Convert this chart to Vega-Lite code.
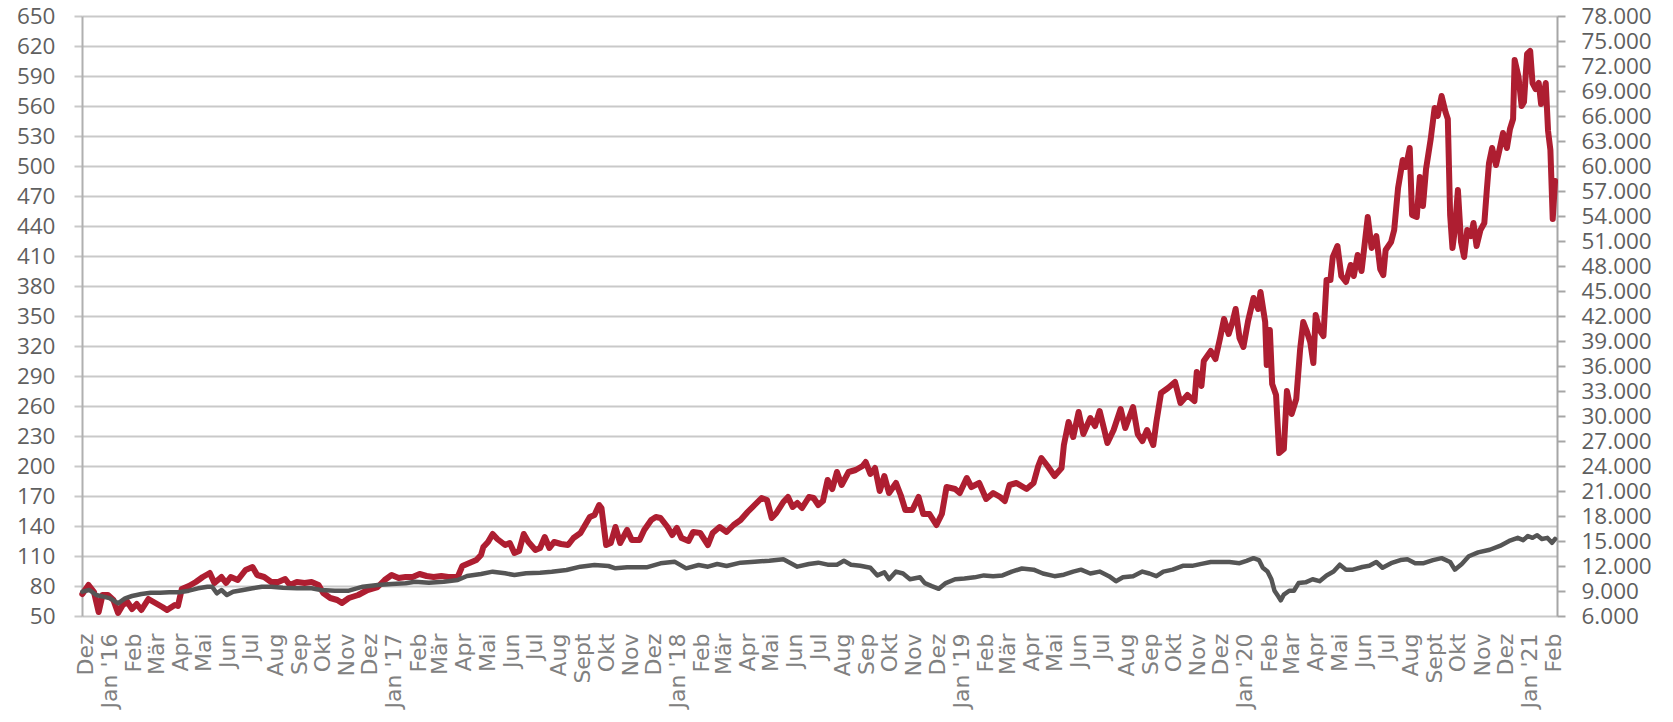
{
  "$schema": "https://vega.github.io/schema/vega-lite/v6.json",
  "width": 1475,
  "height": 600,
  "autosize": {"type": "none"},
  "padding": {"left": 82, "top": 16, "right": 116, "bottom": 106},
  "background": "white",
  "config": {"view": {"stroke": null}, "font": "Open Sans"},
  "datasets": {
    "red": [
      {"date":"2015-11-27","v":72},{"date":"2015-12-05","v":81},{"date":"2015-12-12","v":74},{"date":"2015-12-18","v":54},{"date":"2015-12-23","v":71},{"date":"2015-12-30","v":71},
      {"date":"2016-01-06","v":66},{"date":"2016-01-12","v":53},{"date":"2016-01-18","v":61},{"date":"2016-01-24","v":64},{"date":"2016-01-30","v":57},
      {"date":"2016-02-05","v":62},{"date":"2016-02-11","v":56},{"date":"2016-02-20","v":67},{"date":"2016-02-29","v":63},
      {"date":"2016-03-09","v":59},{"date":"2016-03-15","v":56},{"date":"2016-03-25","v":61},{"date":"2016-03-29","v":60},
      {"date":"2016-04-03","v":77},{"date":"2016-04-12","v":80},{"date":"2016-04-21","v":84},{"date":"2016-04-30","v":89},
      {"date":"2016-05-09","v":93},{"date":"2016-05-15","v":83},{"date":"2016-05-24","v":89},{"date":"2016-05-30","v":83},
      {"date":"2016-06-05","v":89},{"date":"2016-06-14","v":86},{"date":"2016-06-24","v":96},
      {"date":"2016-07-03","v":99},{"date":"2016-07-09","v":91},{"date":"2016-07-18","v":89},{"date":"2016-07-27","v":84},
      {"date":"2016-08-05","v":84},{"date":"2016-08-14","v":87},{"date":"2016-08-20","v":81},{"date":"2016-08-29","v":84},
      {"date":"2016-09-08","v":83},{"date":"2016-09-17","v":84},{"date":"2016-09-26","v":81},
      {"date":"2016-10-02","v":73},{"date":"2016-10-11","v":68},{"date":"2016-10-20","v":66},{"date":"2016-10-26","v":63},
      {"date":"2016-11-04","v":68},{"date":"2016-11-16","v":71},{"date":"2016-11-28","v":76},
      {"date":"2016-12-11","v":79},{"date":"2016-12-20","v":86},{"date":"2016-12-29","v":91},
      {"date":"2017-01-07","v":88},{"date":"2017-01-16","v":89},{"date":"2017-01-25","v":89},
      {"date":"2017-02-03","v":92},{"date":"2017-02-12","v":90},{"date":"2017-02-21","v":89},
      {"date":"2017-03-03","v":90},{"date":"2017-03-12","v":89},{"date":"2017-03-24","v":89},{"date":"2017-03-30","v":100},
      {"date":"2017-04-08","v":103},{"date":"2017-04-17","v":106},{"date":"2017-04-23","v":111},{"date":"2017-04-26","v":119},
      {"date":"2017-05-02","v":124},{"date":"2017-05-08","v":132},{"date":"2017-05-14","v":127},{"date":"2017-05-24","v":121},{"date":"2017-05-30","v":123},
      {"date":"2017-06-05","v":113},{"date":"2017-06-11","v":115},{"date":"2017-06-17","v":132},{"date":"2017-06-23","v":124},
      {"date":"2017-07-02","v":116},{"date":"2017-07-08","v":118},{"date":"2017-07-14","v":129},{"date":"2017-07-20","v":118},{"date":"2017-07-26","v":124},
      {"date":"2017-08-04","v":122},{"date":"2017-08-13","v":121},{"date":"2017-08-20","v":128},{"date":"2017-08-29","v":133},
      {"date":"2017-09-04","v":141},{"date":"2017-09-10","v":149},{"date":"2017-09-16","v":151},{"date":"2017-09-22","v":161},{"date":"2017-09-25","v":158},
      {"date":"2017-10-01","v":121},{"date":"2017-10-07","v":123},{"date":"2017-10-13","v":139},{"date":"2017-10-19","v":123},{"date":"2017-10-28","v":136},
      {"date":"2017-11-03","v":126},{"date":"2017-11-13","v":126},{"date":"2017-11-19","v":136},{"date":"2017-11-28","v":146},
      {"date":"2017-12-04","v":149},{"date":"2017-12-10","v":148},{"date":"2017-12-19","v":139},{"date":"2017-12-25","v":131},{"date":"2017-12-31","v":138},
      {"date":"2018-01-06","v":128},{"date":"2018-01-15","v":125},{"date":"2018-01-21","v":134},{"date":"2018-01-30","v":133},
      {"date":"2018-02-09","v":121},{"date":"2018-02-15","v":133},{"date":"2018-02-24","v":139},
      {"date":"2018-03-05","v":134},{"date":"2018-03-14","v":141},{"date":"2018-03-23","v":146},
      {"date":"2018-04-01","v":154},{"date":"2018-04-10","v":161},{"date":"2018-04-19","v":168},{"date":"2018-04-26","v":166},
      {"date":"2018-05-02","v":148},{"date":"2018-05-08","v":153},{"date":"2018-05-17","v":164},{"date":"2018-05-23","v":169},{"date":"2018-05-29","v":159},
      {"date":"2018-06-04","v":163},{"date":"2018-06-10","v":158},{"date":"2018-06-19","v":169},{"date":"2018-06-25","v":168},
      {"date":"2018-07-01","v":161},{"date":"2018-07-07","v":165},{"date":"2018-07-13","v":186},{"date":"2018-07-19","v":177},{"date":"2018-07-25","v":194},{"date":"2018-07-31","v":181},
      {"date":"2018-08-09","v":194},{"date":"2018-08-18","v":196},{"date":"2018-08-27","v":200},{"date":"2018-08-31","v":204},
      {"date":"2018-09-06","v":192},{"date":"2018-09-12","v":198},{"date":"2018-09-18","v":175},{"date":"2018-09-24","v":190},{"date":"2018-09-30","v":173},
      {"date":"2018-10-09","v":183},{"date":"2018-10-15","v":171},{"date":"2018-10-21","v":156},{"date":"2018-10-30","v":156},
      {"date":"2018-11-07","v":169},{"date":"2018-11-13","v":152},{"date":"2018-11-21","v":152},{"date":"2018-11-30","v":141},
      {"date":"2018-12-07","v":152},{"date":"2018-12-13","v":179},{"date":"2018-12-24","v":177},{"date":"2018-12-30","v":173},
      {"date":"2019-01-08","v":188},{"date":"2019-01-14","v":179},{"date":"2019-01-24","v":183},
      {"date":"2019-02-02","v":167},{"date":"2019-02-11","v":173},{"date":"2019-02-20","v":169},{"date":"2019-02-26","v":165},
      {"date":"2019-03-04","v":181},{"date":"2019-03-13","v":183},{"date":"2019-03-26","v":177},
      {"date":"2019-04-04","v":183},{"date":"2019-04-10","v":200},{"date":"2019-04-14","v":208},{"date":"2019-04-22","v":200},
      {"date":"2019-05-01","v":190},{"date":"2019-05-10","v":198},{"date":"2019-05-13","v":221},{"date":"2019-05-19","v":244},{"date":"2019-05-25","v":229},
      {"date":"2019-06-01","v":254},{"date":"2019-06-07","v":232},{"date":"2019-06-16","v":248},{"date":"2019-06-22","v":240},{"date":"2019-06-28","v":255},
      {"date":"2019-07-04","v":236},{"date":"2019-07-08","v":223},{"date":"2019-07-16","v":236},{"date":"2019-07-25","v":257},{"date":"2019-07-31","v":238},
      {"date":"2019-08-10","v":259},{"date":"2019-08-16","v":232},{"date":"2019-08-22","v":225},{"date":"2019-08-28","v":236},
      {"date":"2019-09-05","v":221},{"date":"2019-09-09","v":244},{"date":"2019-09-15","v":273},{"date":"2019-09-24","v":278},
      {"date":"2019-10-03","v":284},{"date":"2019-10-10","v":263},{"date":"2019-10-19","v":271},{"date":"2019-10-28","v":265},{"date":"2019-10-31","v":294},
      {"date":"2019-11-06","v":280},{"date":"2019-11-09","v":305},{"date":"2019-11-18","v":315},{"date":"2019-11-24","v":307},{"date":"2019-11-30","v":328},
      {"date":"2019-12-05","v":347},{"date":"2019-12-11","v":332},{"date":"2019-12-16","v":344},{"date":"2019-12-20","v":357},{"date":"2019-12-25","v":328},{"date":"2019-12-30","v":319},
      {"date":"2020-01-05","v":345},{"date":"2020-01-12","v":368},{"date":"2020-01-18","v":357},{"date":"2020-01-21","v":374},{"date":"2020-01-27","v":344},{"date":"2020-01-29","v":301},
      {"date":"2020-02-02","v":336},{"date":"2020-02-05","v":282},{"date":"2020-02-10","v":271},{"date":"2020-02-14","v":213},{"date":"2020-02-20","v":217},{"date":"2020-02-24","v":275},
      {"date":"2020-03-01","v":252},{"date":"2020-03-07","v":267},{"date":"2020-03-12","v":317},{"date":"2020-03-16","v":344},{"date":"2020-03-20","v":336},{"date":"2020-03-25","v":324},{"date":"2020-03-29","v":303},
      {"date":"2020-04-01","v":351},{"date":"2020-04-06","v":336},{"date":"2020-04-11","v":330},{"date":"2020-04-15","v":386},{"date":"2020-04-20","v":386},{"date":"2020-04-23","v":409},{"date":"2020-04-29","v":420},
      {"date":"2020-05-04","v":390},{"date":"2020-05-10","v":384},{"date":"2020-05-16","v":401},{"date":"2020-05-20","v":390},{"date":"2020-05-25","v":411},{"date":"2020-05-30","v":395},
      {"date":"2020-06-03","v":422},{"date":"2020-06-07","v":449},{"date":"2020-06-12","v":418},{"date":"2020-06-18","v":430},{"date":"2020-06-23","v":397},{"date":"2020-06-27","v":391},{"date":"2020-06-30","v":416},
      {"date":"2020-07-07","v":424},{"date":"2020-07-11","v":436},{"date":"2020-07-16","v":478},{"date":"2020-07-22","v":506},{"date":"2020-07-26","v":499},{"date":"2020-07-31","v":518},
      {"date":"2020-08-03","v":451},{"date":"2020-08-09","v":449},{"date":"2020-08-13","v":489},{"date":"2020-08-17","v":460},{"date":"2020-08-21","v":497},{"date":"2020-08-27","v":527},
      {"date":"2020-09-01","v":558},{"date":"2020-09-05","v":550},{"date":"2020-09-10","v":570},{"date":"2020-09-15","v":554},{"date":"2020-09-18","v":547},{"date":"2020-09-21","v":451},{"date":"2020-09-24","v":418},{"date":"2020-09-27","v":436},
      {"date":"2020-10-01","v":476},{"date":"2020-10-05","v":424},{"date":"2020-10-09","v":409},{"date":"2020-10-13","v":436},{"date":"2020-10-18","v":430},{"date":"2020-10-21","v":443},{"date":"2020-10-25","v":420},{"date":"2020-10-30","v":436},
      {"date":"2020-11-04","v":443},{"date":"2020-11-07","v":474},{"date":"2020-11-10","v":503},{"date":"2020-11-14","v":518},{"date":"2020-11-19","v":501},{"date":"2020-11-24","v":518},{"date":"2020-11-28","v":533},
      {"date":"2020-12-03","v":518},{"date":"2020-12-07","v":537},{"date":"2020-12-11","v":547},{"date":"2020-12-13","v":606},{"date":"2020-12-18","v":589},{"date":"2020-12-22","v":560},{"date":"2020-12-25","v":564},{"date":"2020-12-29","v":612},
      {"date":"2021-01-02","v":615},{"date":"2021-01-05","v":583},{"date":"2021-01-09","v":577},{"date":"2021-01-13","v":583},{"date":"2021-01-16","v":562},{"date":"2021-01-19","v":570},{"date":"2021-01-22","v":583},{"date":"2021-01-25","v":535},{"date":"2021-01-28","v":516},{"date":"2021-01-31","v":447},
      {"date":"2021-02-03","v":485}
    ],
    "gray": [
      {"date":"2015-11-27","v":8920},{"date":"2015-12-06","v":9120},{"date":"2015-12-15","v":8520},{"date":"2015-12-24","v":8320},
      {"date":"2016-01-02","v":8120},{"date":"2016-01-12","v":7520},{"date":"2016-01-21","v":8120},{"date":"2016-01-30","v":8400},
      {"date":"2016-02-11","v":8640},{"date":"2016-02-23","v":8800},{"date":"2016-03-06","v":8800},{"date":"2016-03-18","v":8840},{"date":"2016-03-31","v":8840},
      {"date":"2016-04-12","v":9040},{"date":"2016-04-24","v":9320},{"date":"2016-05-06","v":9520},{"date":"2016-05-12","v":9520},{"date":"2016-05-18","v":8720},
      {"date":"2016-05-24","v":9120},{"date":"2016-05-31","v":8520},{"date":"2016-06-08","v":8920},{"date":"2016-06-21","v":9120},
      {"date":"2016-07-03","v":9320},{"date":"2016-07-15","v":9520},{"date":"2016-07-27","v":9520},{"date":"2016-08-11","v":9400},{"date":"2016-08-29","v":9320},
      {"date":"2016-09-17","v":9320},{"date":"2016-09-29","v":9120},{"date":"2016-10-17","v":9040},{"date":"2016-11-04","v":9040},{"date":"2016-11-22","v":9520},
      {"date":"2016-12-11","v":9720},{"date":"2016-12-29","v":9840},{"date":"2017-01-16","v":9920},{"date":"2017-01-28","v":10120},{"date":"2017-02-15","v":10000},
      {"date":"2017-03-06","v":10120},{"date":"2017-03-24","v":10320},{"date":"2017-04-05","v":10800},{"date":"2017-04-23","v":11040},{"date":"2017-05-08","v":11320},
      {"date":"2017-05-24","v":11120},{"date":"2017-06-05","v":10920},{"date":"2017-06-20","v":11120},{"date":"2017-07-08","v":11200},{"date":"2017-07-23","v":11320},
      {"date":"2017-08-11","v":11520},{"date":"2017-08-29","v":11920},{"date":"2017-09-16","v":12120},{"date":"2017-10-04","v":12000},{"date":"2017-10-13","v":11720},
      {"date":"2017-10-28","v":11840},{"date":"2017-11-22","v":11840},{"date":"2017-12-10","v":12320},{"date":"2017-12-28","v":12520},
      {"date":"2018-01-12","v":11720},{"date":"2018-01-28","v":12120},{"date":"2018-02-09","v":11920},{"date":"2018-02-21","v":12240},{"date":"2018-03-05","v":12000},
      {"date":"2018-03-23","v":12400},{"date":"2018-04-10","v":12520},{"date":"2018-04-29","v":12640},{"date":"2018-05-17","v":12800},{"date":"2018-06-04","v":11920},
      {"date":"2018-06-19","v":12240},{"date":"2018-07-01","v":12400},{"date":"2018-07-13","v":12160},{"date":"2018-07-25","v":12160},{"date":"2018-08-03","v":12620},
      {"date":"2018-08-12","v":12160},{"date":"2018-08-24","v":12020},{"date":"2018-09-06","v":11790},{"date":"2018-09-15","v":10870},{"date":"2018-09-24","v":11240},
      {"date":"2018-09-30","v":10410},{"date":"2018-10-09","v":11330},{"date":"2018-10-18","v":11100},{"date":"2018-10-27","v":10410},{"date":"2018-11-09","v":10640},
      {"date":"2018-11-15","v":9950},{"date":"2018-11-24","v":9580},{"date":"2018-12-03","v":9260},{"date":"2018-12-12","v":9950},{"date":"2018-12-24","v":10410},
      {"date":"2019-01-05","v":10500},{"date":"2019-01-18","v":10640},{"date":"2019-01-30","v":10870},{"date":"2019-02-11","v":10780},{"date":"2019-02-23","v":10870},
      {"date":"2019-03-07","v":11330},{"date":"2019-03-20","v":11700},{"date":"2019-04-04","v":11560},{"date":"2019-04-16","v":11100},{"date":"2019-05-01","v":10780},
      {"date":"2019-05-13","v":10960},{"date":"2019-05-25","v":11330},{"date":"2019-06-04","v":11560},{"date":"2019-06-16","v":11100},{"date":"2019-06-28","v":11330},
      {"date":"2019-07-10","v":10780},{"date":"2019-07-19","v":10180},{"date":"2019-07-28","v":10640},{"date":"2019-08-10","v":10780},{"date":"2019-08-22","v":11330},
      {"date":"2019-08-31","v":11100},{"date":"2019-09-09","v":10780},{"date":"2019-09-18","v":11330},{"date":"2019-09-30","v":11560},{"date":"2019-10-13","v":12020},
      {"date":"2019-10-25","v":12020},{"date":"2019-11-06","v":12250},{"date":"2019-11-18","v":12480},{"date":"2019-11-30","v":12480},{"date":"2019-12-12","v":12480},
      {"date":"2019-12-25","v":12340},{"date":"2020-01-03","v":12620},{"date":"2020-01-12","v":12940},{"date":"2020-01-19","v":12710},{"date":"2020-01-24","v":11790},
      {"date":"2020-01-30","v":11330},{"date":"2020-02-04","v":10410},{"date":"2020-02-08","v":9030},{"date":"2020-02-13","v":8340},{"date":"2020-02-16","v":7880},
      {"date":"2020-02-20","v":8570},{"date":"2020-02-27","v":9030},{"date":"2020-03-04","v":9030},{"date":"2020-03-10","v":9950},{"date":"2020-03-19","v":10040},
      {"date":"2020-03-28","v":10410},{"date":"2020-04-06","v":10180},{"date":"2020-04-15","v":10870},{"date":"2020-04-24","v":11330},{"date":"2020-05-02","v":12160},
      {"date":"2020-05-10","v":11560},{"date":"2020-05-19","v":11560},{"date":"2020-05-31","v":11880},{"date":"2020-06-09","v":12020},{"date":"2020-06-18","v":12480},
      {"date":"2020-06-26","v":11790},{"date":"2020-07-07","v":12340},{"date":"2020-07-19","v":12710},{"date":"2020-07-28","v":12800},{"date":"2020-08-07","v":12340},
      {"date":"2020-08-18","v":12340},{"date":"2020-08-30","v":12710},{"date":"2020-09-10","v":12940},{"date":"2020-09-21","v":12480},{"date":"2020-09-27","v":11560},
      {"date":"2020-10-06","v":12250},{"date":"2020-10-15","v":13170},{"date":"2020-10-27","v":13630},{"date":"2020-11-11","v":13950},{"date":"2020-11-24","v":14410},
      {"date":"2020-12-06","v":15010},{"date":"2020-12-17","v":15380},{"date":"2020-12-24","v":15100},{"date":"2020-12-30","v":15600},{"date":"2021-01-05","v":15380},
      {"date":"2021-01-11","v":15700},{"date":"2021-01-17","v":15240},{"date":"2021-01-24","v":15380},{"date":"2021-01-30","v":14780},{"date":"2021-02-03","v":15240}
    ]
  },
  "encoding": {
    "x": {
      "field": "date",
      "type": "temporal",
      "scale": {
        "type": "utc",
        "domain": [
          {"year": 2015, "month": 11, "date": 26, "hours": 14, "utc": true},
          {"year": 2021, "month": 2, "date": 5, "hours": 12, "utc": true}
        ]
      },
      "axis": {
        "title": null,
        "tickCount": {"interval": "month", "step": 1},
        "labelAngle": -90,
        "labelOverlap": false,
        "labelBound": false,
        "labelFlush": false,
        "ticks": false,
        "domain": false,
        "grid": false,
        "labelPadding": 17,
        "labelFont": "DejaVu Sans",
        "labelFontSize": 22,
        "labelColor": "#808080",
        "labelExpr": "utcmonth(datum.value)==0 ? \"Jan '\" + utcFormat(datum.value, '%y') : (utcmonth(datum.value)==8 && (utcyear(datum.value)==2017 || utcyear(datum.value)==2020)) ? 'Sept' : (utcmonth(datum.value)==2 && utcyear(datum.value)==2020) ? 'Mar' : ['Jan','Feb','Mär','Apr','Mai','Jun','Jul','Aug','Sep','Okt','Nov','Dez'][utcmonth(datum.value)]"
      }
    }
  },
  "layer": [
    {
      "data": {"name": "red"},
      "mark": {"type": "line", "color": "#AE1E31", "strokeWidth": 6, "strokeJoin": "round", "strokeCap": "round"},
      "encoding": {
        "y": {
          "field": "v",
          "type": "quantitative",
          "scale": {"domain": [50, 650], "nice": false, "zero": false},
          "axis": {
            "title": null,
            "values": [50,80,110,140,170,200,230,260,290,320,350,380,410,440,470,500,530,560,590,620,650],
            "grid": true,
            "gridColor": "#c9c9c9",
            "gridWidth": 2,
            "domain": true,
            "domainColor": "#b0b0b0",
            "domainWidth": 2,
            "ticks": true,
            "tickColor": "#c9c9c9",
            "tickWidth": 2,
            "tickSize": 8,
            "labelPadding": 19,
            "labelFont": "Open Sans",
            "labelFontSize": 22.5,
            "labelColor": "#5f5f5f"
          }
        }
      }
    },
    {
      "data": {"name": "gray"},
      "mark": {"type": "line", "color": "#555555", "strokeWidth": 4.5, "strokeJoin": "round", "strokeCap": "round"},
      "encoding": {
        "y": {
          "field": "v",
          "type": "quantitative",
          "scale": {"domain": [6000, 78000], "nice": false, "zero": false},
          "axis": {
            "orient": "right",
            "title": null,
            "values": [6000,9000,12000,15000,18000,21000,24000,27000,30000,33000,36000,39000,42000,45000,48000,51000,54000,57000,60000,63000,66000,69000,72000,75000,78000],
            "grid": false,
            "domain": true,
            "domainColor": "#a6a6a6",
            "domainWidth": 2,
            "ticks": true,
            "tickColor": "#a6a6a6",
            "tickWidth": 2,
            "tickSize": 8,
            "labelPadding": 16,
            "labelFont": "Open Sans",
            "labelFontSize": 22.5,
            "labelColor": "#5f5f5f",
            "labelExpr": "replace(format(datum.value, ',d'), ',', '.')"
          }
        }
      }
    }
  ],
  "resolve": {"scale": {"y": "independent"}}
}
